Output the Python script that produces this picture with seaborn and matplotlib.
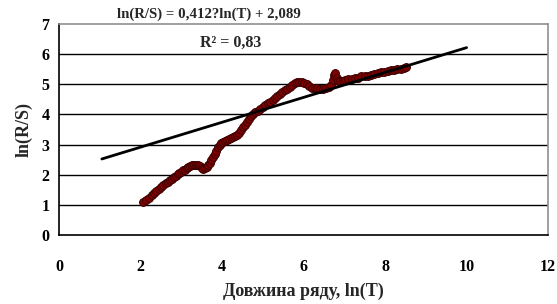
import numpy as np
import pandas as pd
import matplotlib
matplotlib.use("Agg")
import matplotlib.pyplot as plt
import seaborn as sns

# Дані R/S-аналізу
ln_t = [2.07, 2.14, 2.20, 2.27, 2.33, 2.39, 2.45, 2.51, 2.56, 2.62, 2.67, 2.72,
        2.77, 2.82, 2.86, 2.91, 2.95, 3.00, 3.04, 3.08, 3.13, 3.17, 3.21, 3.26,
        3.30, 3.35, 3.40, 3.45, 3.50, 3.54, 3.58, 3.62, 3.66, 3.70, 3.74, 3.78,
        3.82, 3.86, 3.90, 3.94, 3.98, 4.02, 4.07, 4.12, 4.17, 4.22, 4.27, 4.32,
        4.37, 4.42, 4.47, 4.52, 4.57, 4.62, 4.67, 4.72, 4.77, 4.82, 4.88, 4.94,
        5.00, 5.06, 5.12, 5.18, 5.24, 5.30, 5.36, 5.42, 5.48, 5.54, 5.60, 5.66,
        5.72, 5.78, 5.84, 5.90, 5.96, 6.02, 6.08, 6.14, 6.20, 6.27, 6.34, 6.41,
        6.48, 6.55, 6.62, 6.68, 6.72, 6.75, 6.78, 6.81, 6.84, 6.90, 6.96, 7.02,
        7.10, 7.18, 7.26, 7.34, 7.42, 7.50, 7.58, 7.66, 7.74, 7.82, 7.90, 7.98,
        8.06, 8.14, 8.22, 8.30, 8.38, 8.46, 8.52]
ln_rs = [1.10, 1.17, 1.24, 1.33, 1.40, 1.46, 1.53, 1.60, 1.66, 1.72, 1.77, 1.82,
         1.87, 1.93, 1.97, 2.02, 2.05, 2.10, 2.14, 2.17, 2.22, 2.26, 2.28, 2.31,
         2.33, 2.33, 2.32, 2.28, 2.22, 2.19, 2.22, 2.27, 2.33, 2.40, 2.48, 2.58,
         2.68, 2.80, 2.91, 2.98, 3.04, 3.08, 3.12, 3.15, 3.18, 3.21, 3.24, 3.28,
         3.33, 3.40, 3.48, 3.57, 3.66, 3.76, 3.86, 3.96, 4.02, 4.07, 4.12, 4.18,
         4.26, 4.32, 4.37, 4.42, 4.48, 4.55, 4.61, 4.68, 4.74, 4.80, 4.86, 4.92,
         4.98, 5.03, 5.06, 5.08, 5.07, 5.04, 5.02, 4.95, 4.89, 4.87, 4.88, 4.86,
         4.85, 4.87, 4.90, 4.98, 5.15, 5.32, 5.38, 5.22, 5.10, 5.10, 5.12, 5.14,
         5.16, 5.18, 5.20, 5.22, 5.27, 5.26, 5.28, 5.30, 5.33, 5.36, 5.40, 5.42,
         5.44, 5.46, 5.48, 5.50, 5.52, 5.54, 5.56]

# лінійний тренд: коефіцієнти та межі
trend_slope = 0.4127
trend_icept = 2.089
trend_x = [1.05, 10.0]

x_ticks = [0, 2, 4, 6, 8, 10, 12]
y_ticks = [0, 1, 2, 3, 4, 5, 6, 7]

df = pd.DataFrame({"ln_t": ln_t, "ln_rs": ln_rs})
df_trend = pd.DataFrame({"x": trend_x,
                         "y": [trend_slope * v + trend_icept for v in trend_x]})

sns.set_style("white")
plt.rcParams["font.family"] = ["Liberation Serif", "DejaVu Serif"]
plt.rcParams["font.weight"] = "bold"

fig = plt.figure(figsize=(5.57, 3.04), dpi=100)
ax = fig.add_axes([0.106, 0.227, 0.878, 0.694])

for yv in y_ticks[1:-1]:
    ax.axhline(yv, color="black", lw=1.0, zorder=0)

sns.scatterplot(data=df, x="ln_t", y="ln_rs", ax=ax, s=32, color="#7f0000",
                edgecolor="#3a0000", linewidth=0.7, zorder=2, legend=False)
sns.lineplot(data=df_trend, x="x", y="y", ax=ax, color="black", lw=2.0,
             zorder=3, legend=False)

ax.set_xlim(0, 12)
ax.set_ylim(0, 7)
ax.set_xticks(x_ticks)
ax.set_yticks(y_ticks)
ax.tick_params(axis="both", direction="out", length=4, width=1, colors="black",
               labelsize=11.5, pad=3)
ax.tick_params(axis="x", pad=13)
for lab in ax.get_xticklabels() + ax.get_yticklabels():
    lab.set_fontweight("bold")

ax.spines["left"].set_color("black")
ax.spines["bottom"].set_color("black")
ax.spines["top"].set_color("#909090")
ax.spines["right"].set_color("#909090")
for s in ax.spines.values():
    s.set_linewidth(1.2)

ax.set_xlabel("Довжина ряду, ln(T)", fontsize=13, fontweight="bold", labelpad=6)
ax.set_ylabel("ln(R/S)", fontsize=13, fontweight="bold", labelpad=6)

ax.text(3.68, 7.33, "ln(R/S) = 0,412?ln(T) + 2,089", ha="center", va="center",
        fontsize=10.7, fontweight="bold", clip_on=False)
ax.text(4.2, 6.38, "R² = 0,83", ha="center", va="center",
        fontsize=11.5, fontweight="bold")

fig.savefig("out.png", dpi=100)
